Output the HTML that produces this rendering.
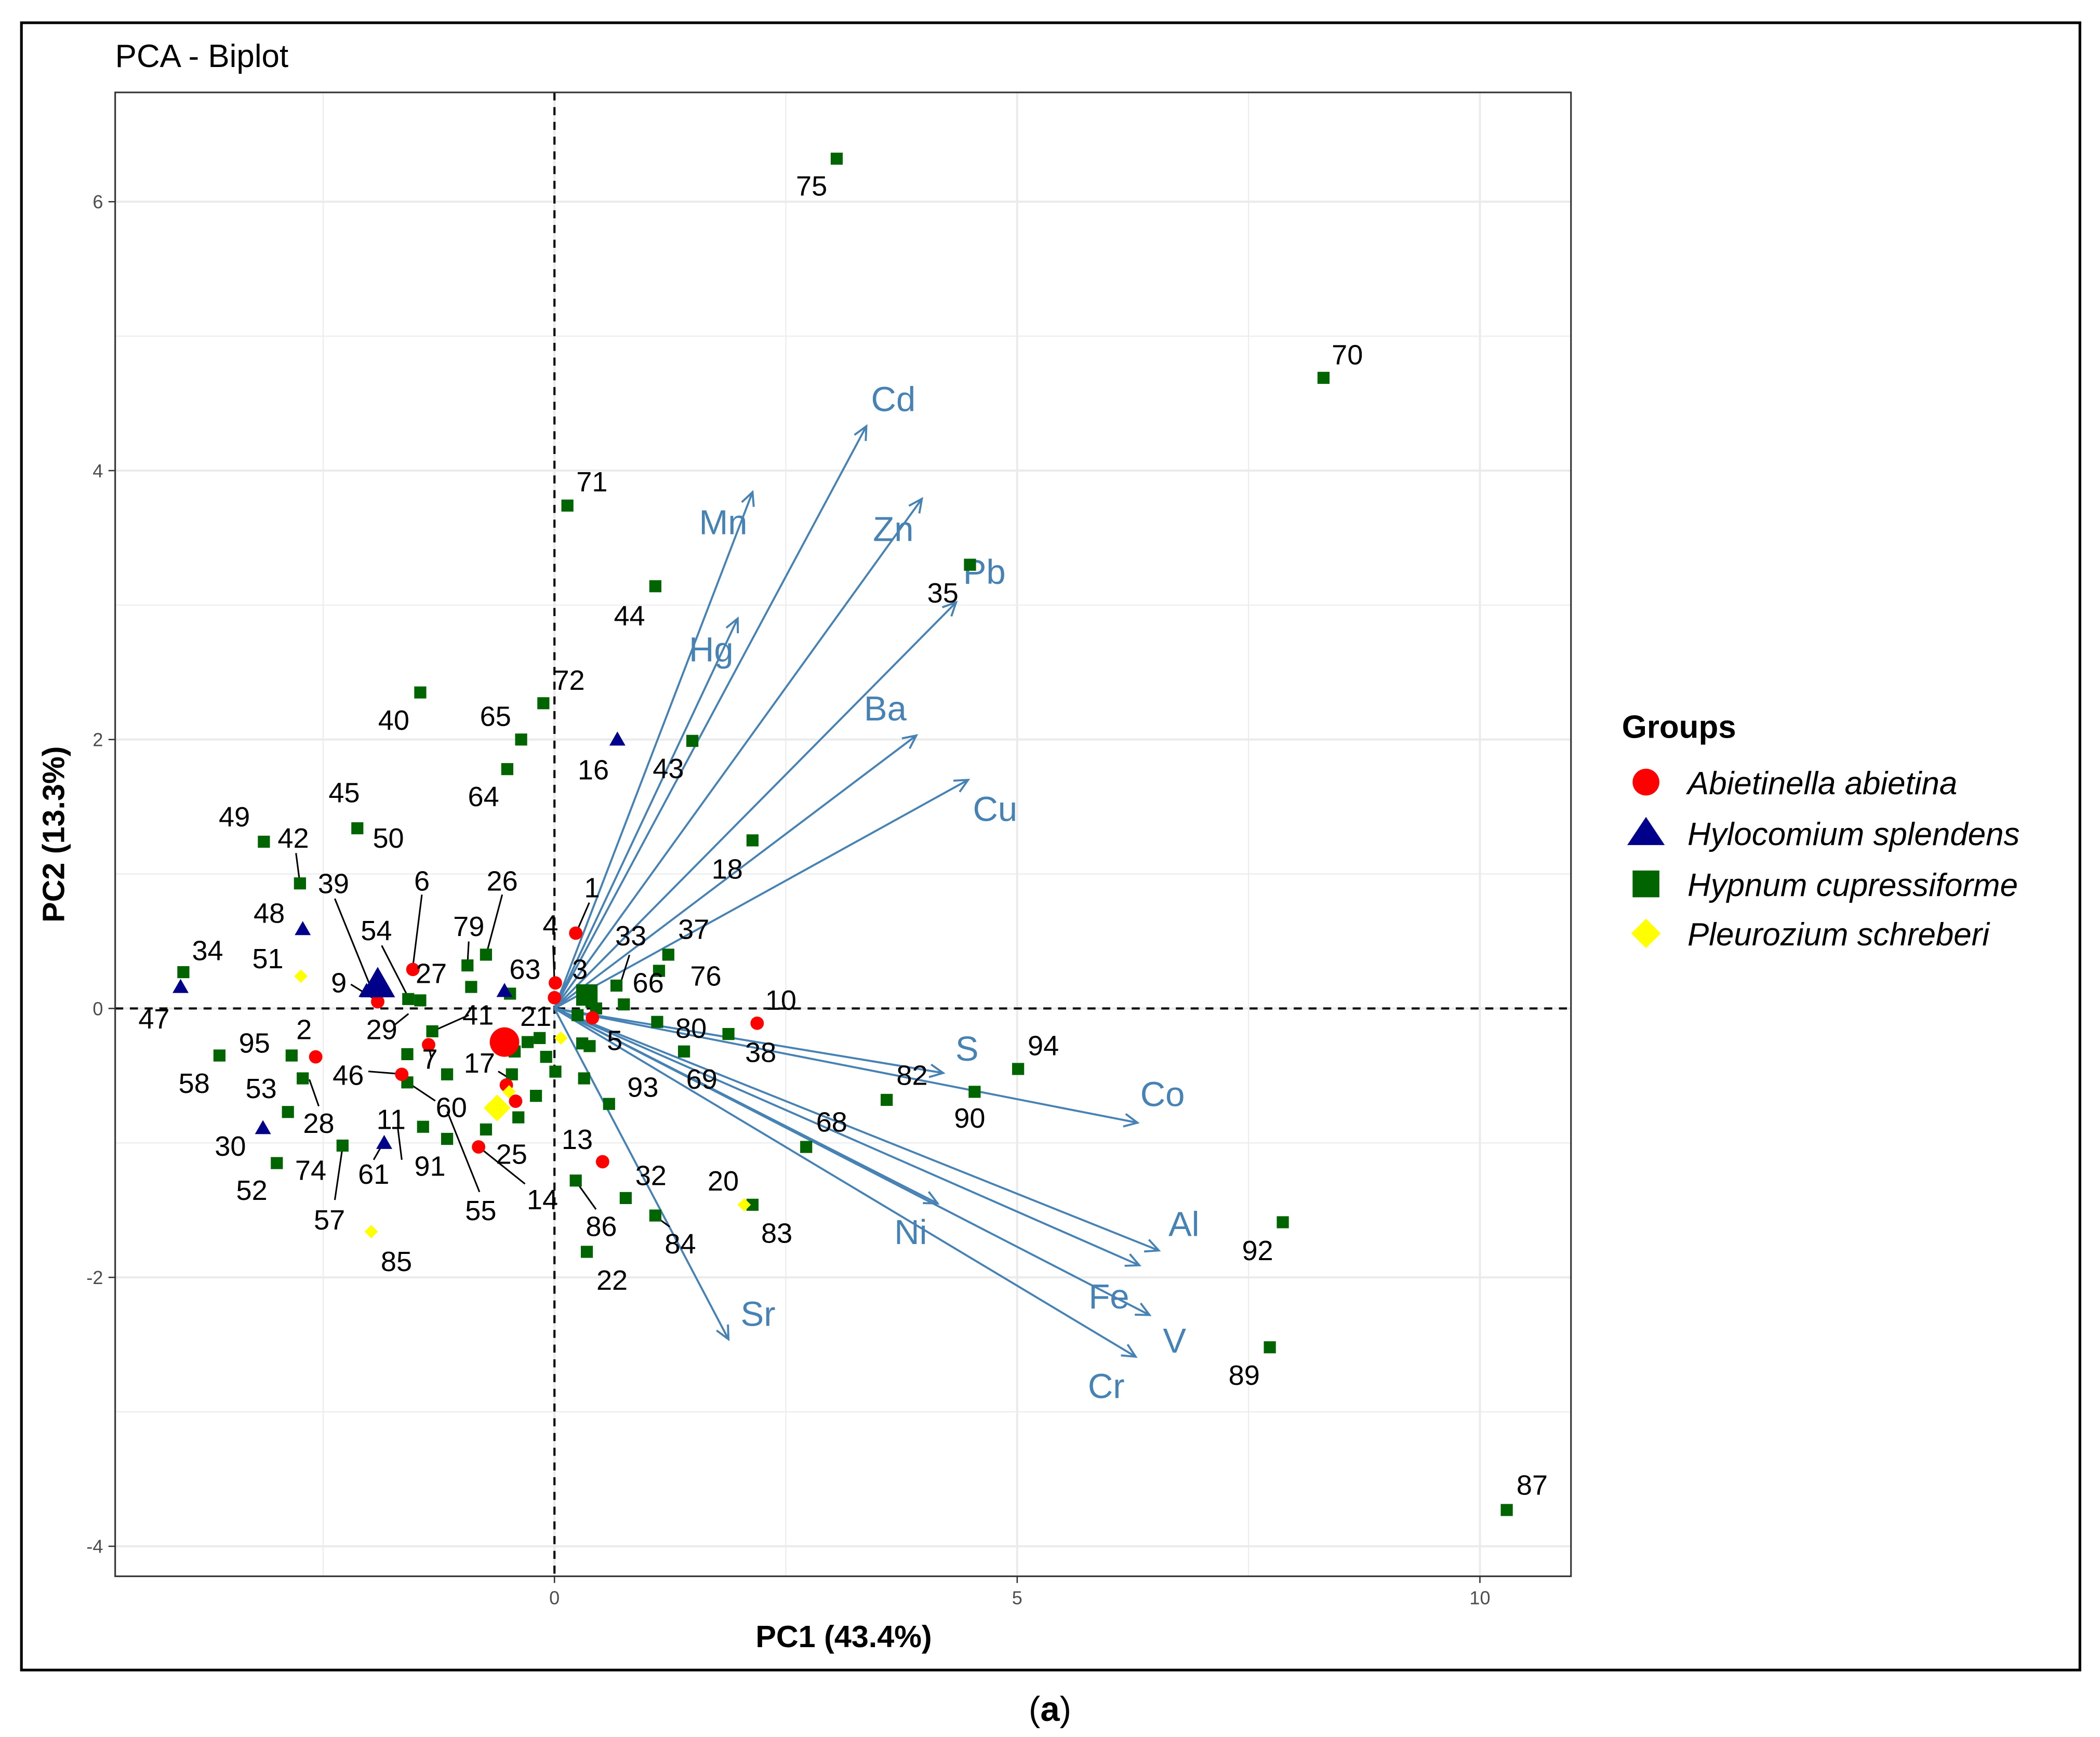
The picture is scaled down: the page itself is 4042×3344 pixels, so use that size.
<!DOCTYPE html>
<html><head><meta charset="utf-8"><style>
html,body{margin:0;padding:0;background:#fff}
svg{display:block}
text{font-family:"Liberation Sans",sans-serif}
</style></head><body>
<svg id="chart" width="4042" height="3344" viewBox="0 0 1568 1297" preserveAspectRatio="none" xmlns="http://www.w3.org/2000/svg">
<rect x="0" y="0" width="1568" height="1308" fill="#fff"/>
<rect x="16" y="17" width="1537" height="1230" fill="none" stroke="#000" stroke-width="2"/>
<text x="86" y="50" font-size="24">PCA - Biplot</text>
<g id="grid"></g>
<g id="refs"></g>
<g id="arrows"></g>
<g id="leaders"></g>
<g id="points"></g>
<g id="labels"></g>
<rect x="86" y="69" width="1087" height="1108" fill="none" stroke="#333" stroke-width="1.2"/>
<g id="axes"></g>
<text x="630" y="1230" font-size="23" font-weight="bold" text-anchor="middle">PC1 (43.4%)</text>
<text x="0" y="0" font-size="23" font-weight="bold" text-anchor="middle" transform="translate(48,623) rotate(-90)">PC2 (13.3%)</text>
<g>
<text x="1211" y="551" font-size="24" font-weight="bold">Groups</text>
<circle cx="1229" cy="584" r="10" fill="#ff0000"/>
<text x="1260" y="593" font-size="24" font-style="italic">Abietinella abietina</text>
<polygon points="1229,610 1243,631 1215,631" fill="#00008b"/>
<text x="1260" y="631" font-size="24" font-style="italic">Hylocomium splendens</text>
<rect x="1219" y="650" width="20" height="20" fill="#006400"/>
<text x="1260" y="669" font-size="24" font-style="italic">Hypnum cupressiforme</text>
<polygon points="1229,686 1240,697 1229,708 1218,697" fill="#ffff00"/>
<text x="1260" y="706" font-size="24" font-style="italic">Pleurozium schreberi</text>
</g>
<text x="784" y="1285" font-size="26" text-anchor="middle" font-family="Liberation Serif, serif">(<tspan font-weight="bold">a</tspan>)</text>
</svg>
<script>
// ---- data (PC1, PC2 scores) ----
const hypnumX=[3.05,8.31,0.14,1.09,-0.12,-1.45,-0.36,-0.51,1.49,2.14,4.49,-3.14,-2.13,-2.75,-4.01,-0.94,-0.74,1.23,1.13,0.67,0.75,1.11,1.88,1.40,5.01,4.54,3.59,2.72,7.87,7.73,10.29,2.14,1.09,0.77,0.23,0.35,0.59,0.32,0.38,0.30,0.01,-0.09,-0.20,-0.39,-0.74,-0.46,-0.43,-0.29,-0.16,-0.48,-0.90,-1.16,-1.16,-1.42,-1.45,-1.58,-1.32,-1.59,-1.59,-2.29,-2.72,-2.84,-2.88,-3.00,-3.62,0.30,0.40,0.45,0.25];
const hypnumY=[6.32,4.69,3.74,3.14,2.27,2.35,2.00,1.78,1.99,1.25,3.30,1.24,1.34,0.93,0.27,0.32,0.40,0.40,0.28,0.17,0.03,-0.10,-0.19,-0.32,-0.45,-0.62,-0.68,-1.03,-1.59,-2.52,-3.73,-1.46,-1.54,-1.41,-1.28,-1.81,-0.71,-0.52,-0.28,-0.26,-0.47,-0.36,-0.65,-0.81,-0.90,-0.49,-0.32,-0.25,-0.22,0.11,0.16,-0.97,-0.49,-0.88,0.06,0.07,-0.17,-0.34,-0.55,-1.02,-0.52,-0.35,-0.77,-1.15,-0.35,0.10,0.05,0.00,-0.05];
const abietX=[0.23,0.01,0.00,0.41,2.19,0.52,-0.82,-0.42,-0.52,-1.36,-1.65,-1.53,-1.91,-2.58];
const abietY=[0.56,0.19,0.08,-0.07,-0.11,-1.14,-1.03,-0.69,-0.57,-0.27,-0.49,0.29,0.05,-0.36];
const abietCentroid=[-0.54,-0.25];
const hyloX=[0.68,-2.72,-4.04,-3.15,-1.84,-0.54,-2.03];
const hyloY=[2.00,0.59,0.16,-0.89,-1.00,0.13,0.13];
const hyloCentroid=[-1.91,0.18];
const pleuroX=[-2.74,-1.98,-0.49,0.07,2.05];
const pleuroY=[0.24,-1.66,-0.62,-0.22,-1.46];
const pleuroCentroid=[-0.62,-0.74];
const varNames=["Cd","Mn","Zn","Pb","Hg","Ba","Cu","S","Co","Al","Fe","V","Cr","Ni","Sr"];
const varX=[3.37,2.14,3.97,4.34,1.98,3.91,4.47,4.20,6.30,6.53,6.32,6.43,6.28,4.14,1.88];
const varY=[4.33,3.84,3.79,3.02,2.90,2.03,1.70,-0.48,-0.85,-1.80,-1.91,-2.28,-2.59,-1.45,-2.46];
const xTicks=[0,5,10];
const yTicks=[-4,-2,0,2,4,6];
// annotation positions (label text layout)
const varLabelPos=[[667,298],[540,390],[667,395],[735,427],[531,485],[661,529],[743,604],[722,783],[868,817],[884,914],[828,968],[877,1001],[826,1035],[680,920],[566,981]];
const pointLabels=[["75",606,138],["70",1006,264],["71",442,359],["44",470,459],["72",425,507],["40",294,537],["65",370,534],["64",361,594],["16",443,574],["43",499,573],["35",704,442],["18",543,648],["49",175,609],["45",257,591],["50",290,625],["42",219,625],["39",249,659],["6",315,657],["26",375,657],["48",201,681],["1",442,662],["54",281,694],["79",350,691],["4",411,690],["33",471,698],["37",518,693],["34",155,709],["51",200,715],["27",322,726],["63",392,723],["3",433,723],["66",484,733],["76",527,728],["9",253,733],["10",583,746],["47",115,760],["29",285,768],["41",357,757],["21",400,758],["2",227,768],["95",190,778],["5",459,776],["80",516,767],["38",568,785],["94",779,780],["46",260,802],["7",321,790],["17",358,793],["82",681,802],["58",145,808],["53",195,812],["93",480,811],["69",524,805],["60",337,826],["90",724,834],["28",238,838],["11",292,835],["68",621,837],["13",431,850],["30",172,855],["25",382,861],["91",321,870],["74",232,873],["61",279,876],["32",486,877],["20",540,881],["52",188,888],["55",359,903],["14",405,895],["86",449,915],["83",580,920],["57",246,910],["84",508,928],["92",939,933],["85",296,941],["22",457,955],["89",929,1026],["87",1144,1108]];
const leaderLines=[[430,697,440,674],[280,745,250,671],[308,724,315,668],[363,713,375,668],[305,745,285,706],[349,721,350,703],[224,660,221,637],[278,745,262,735],[305,757,295,765],[323,770,350,758],[320,780,322,790],[300,802,275,800],[304,808,325,822],[231,806,238,826],[287,852,279,866],[297,842,300,866],[256,855,250,896],[334,830,358,890],[357,856,392,884],[430,882,445,903],[489,908,500,916],[464,732,470,713],[414,734,413,706],[380,805,372,800]];

const NS="http://www.w3.org/2000/svg";
function X(v){return 414+69.1*v;}
function Y(v){return 753-100.4*v;}
function mk(tag,attrs,parent){const e=document.createElementNS(NS,tag);for(const k in attrs)e.setAttribute(k,attrs[k]);parent.appendChild(e);return e;}
const grid=document.getElementById('grid');
const panelL=86,panelR=1173,panelT=69,panelB=1177;
// minor grid
for(let v=-2.5;v<=10;v+=5){const l=mk('line',{x1:X(v),x2:X(v),y1:panelT,y2:panelB,stroke:'#ebebeb','stroke-width':0.8},grid);

}
for(let v=-3;v<=7;v+=2){const yy=Y(v);if(yy<panelT||yy>panelB)continue;const l=mk('line',{x1:panelL,x2:panelR,y1:yy,y2:yy,stroke:'#ebebeb','stroke-width':0.8},grid);

}
const axes=document.getElementById('axes');
xTicks.forEach(t=>{const l=mk('line',{x1:X(t),x2:X(t),y1:panelT,y2:panelB,stroke:'#ebebeb','stroke-width':1.6},grid);


const tk=mk('line',{x1:X(t),x2:X(t),y1:panelB,y2:panelB+5,stroke:'#333','stroke-width':1},axes);


const tx=mk('text',{x:X(t),y:panelB+21,'font-size':14,fill:'#4d4d4d','text-anchor':'middle'},axes);tx.textContent=t;

});
yTicks.forEach(t=>{const l=mk('line',{x1:panelL,x2:panelR,y1:Y(t),y2:Y(t),stroke:'#ebebeb','stroke-width':1.6},grid);


const tk=mk('line',{x1:panelL-5,x2:panelL,y1:Y(t),y2:Y(t),stroke:'#333','stroke-width':1},axes);


const tx=mk('text',{x:panelL-9,y:Y(t)+5,'font-size':14,fill:'#4d4d4d','text-anchor':'end'},axes);tx.textContent=t;

});
const refs=document.getElementById('refs');
const rv=mk('line',{x1:X(0),x2:X(0),y1:panelT,y2:panelB,stroke:'#000','stroke-width':1.6,'stroke-dasharray':'6,5'},refs);


const rh=mk('line',{x1:panelL,x2:panelR,y1:Y(0),y2:Y(0),stroke:'#000','stroke-width':1.6,'stroke-dasharray':'6,5'},refs);


// arrows
const ag=document.getElementById('arrows');
varNames.forEach((n,i)=>{const x2=X(varX[i]),y2=Y(varY[i]),x1=X(0),y1=Y(0);
const ln=mk('line',{x1,y1,x2,y2,stroke:'#4682b4','stroke-width':1.5},ag);


const a=Math.atan2(y2-y1,x2-x1),L=11,w=0.45;
const hd=mk('polyline',{points:`${x2-L*Math.cos(a-w)},${y2-L*Math.sin(a-w)} ${x2},${y2} ${x2-L*Math.cos(a+w)},${y2-L*Math.sin(a+w)}`,fill:'none',stroke:'#4682b4','stroke-width':1.5},ag);


const t=mk('text',{x:varLabelPos[i][0],y:varLabelPos[i][1]+9,'font-size':26,fill:'#4682b4','text-anchor':'middle'},ag);t.textContent=n;

});
// leaders
const lg=document.getElementById('leaders');
leaderLines.forEach(p=>{const l=mk('line',{x1:p[0],y1:p[1],x2:p[2],y2:p[3],stroke:'#000','stroke-width':1.2},lg);

});
// points
const pg=document.getElementById('points');
function sq(x,y,s,name){const r=mk('rect',{x:X(x)-s/2,y:Y(y)-s/2,width:s,height:s,fill:'#006400'},pg);

}
function ci(x,y,r,name){const c=mk('circle',{cx:X(x),cy:Y(y),r,fill:'#ff0000'},pg);

}
function tr(x,y,s,name){const cx=X(x),cy=Y(y);const p=mk('polygon',{points:`${cx},${cy-s} ${cx+s},${cy+s*0.75} ${cx-s},${cy+s*0.75}`,fill:'#00008b'},pg);

}
function di(x,y,s,name){const cx=X(x),cy=Y(y);const p=mk('polygon',{points:`${cx},${cy-s} ${cx+s},${cy} ${cx},${cy+s} ${cx-s},${cy}`,fill:'#ffff00'},pg);

}
hypnumX.forEach((x,i)=>sq(x,hypnumY[i],9,'hypnum-point'));
sq(0.35,0.1,16,'hypnum-centroid');
abietX.forEach((x,i)=>ci(x,abietY[i],5,'abietinella-point'));
ci(abietCentroid[0],abietCentroid[1],11,'abietinella-centroid');
hyloX.forEach((x,i)=>tr(x,hyloY[i],6,'hylocomium-point'));
tr(hyloCentroid[0],hyloCentroid[1],13,'hylocomium-centroid');
pleuroX.forEach((x,i)=>di(x,pleuroY[i],5,'pleurozium-point'));
di(pleuroCentroid[0],pleuroCentroid[1],10,'pleurozium-centroid');
// point labels
const lb=document.getElementById('labels');
pointLabels.forEach(p=>{const t=mk('text',{x:p[1],y:p[2]+8,'font-size':21,fill:'#000','text-anchor':'middle'},lb);t.textContent=p[0];

});
</script>
</body></html>
